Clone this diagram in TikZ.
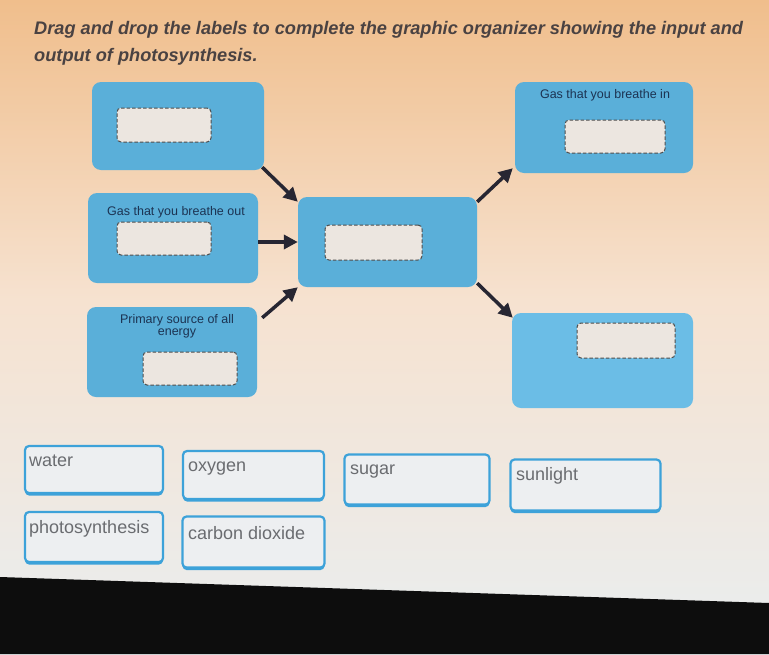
\documentclass[tikz,border=0pt]{standalone}
\usepackage{fontspec}
\setmainfont{Liberation Sans}
\usetikzlibrary{arrows.meta,calc}
\definecolor{bgtop}{HTML}{F0BE8C}
\definecolor{bgmid}{HTML}{F6E2D0}
\definecolor{bgbot}{HTML}{E9EEF0}
\definecolor{boxblue}{HTML}{5AAFD9}
\definecolor{boxblue2}{HTML}{6BBDE6}
\definecolor{slotfill}{HTML}{ECE6E0}
\definecolor{arrowc}{HTML}{272632}
\definecolor{titlec}{HTML}{4A4242}
\definecolor{labelc}{HTML}{1C3352}
\definecolor{tileborder}{HTML}{3DA2D9}
\definecolor{tilefill}{HTML}{EDEFF1}
\definecolor{tiletext}{HTML}{6A6C70}
\tikzset{
  bluebox/.style={fill=boxblue, rounded corners=9pt, draw=none, inner sep=0pt},
  slot/.style={fill=slotfill, draw=black!70, dashed, line width=1pt, dash pattern=on 3.5pt off 2pt, rounded corners=4pt, inner sep=0pt},
  conn/.style={draw=arrowc, line width=3.5pt, -{Triangle[length=14pt,width=14pt]}},
  boxlabel/.style={text=labelc, font=\fontsize{12.5}{13}\selectfont, inner sep=0pt},
  tile/.style={fill=tilefill, draw=tileborder, line width=2.2pt, rounded corners=4pt, inner sep=0pt},
  tiletxt/.style={text=tiletext, font=\fontsize{18}{20}\selectfont, anchor=base west, inner sep=0pt},
  titletxt/.style={text=titlec, font=\fontsize{18.2}{21}\selectfont\bfseries\itshape, anchor=base west, inner sep=0pt}
}
\begin{document}
\begin{tikzpicture}[x=1pt,y=-1pt]
\useasboundingbox (0,0) rectangle (769,654);
% background
\shade[top color=bgtop, bottom color=bgmid] (0,0) rectangle (769,300);
\shade[top color=bgmid, bottom color=bgbot] (0,300) rectangle (769,654);
\fill[black!95] (0,577) -- (769,603) -- (769,654) -- (0,654) -- cycle;

% title
\node[titletxt] (t1) at (34,34) {Drag and drop the labels to complete the graphic organizer showing the input and};
\node[titletxt] (t2) at (34,61) {output of photosynthesis.};

% blue boxes
\node[bluebox, minimum width=172, minimum height=88] (tl) at (178,126) {};
\node[bluebox, minimum width=170, minimum height=90] (ml) at (173,238) {};
\node[bluebox, minimum width=170, minimum height=90] (bl) at (172,352) {};
\node[bluebox, minimum width=179, minimum height=90] (c) at (387.5,242) {};
\node[bluebox, minimum width=178, minimum height=91] (tr) at (604,127.5) {};
\node[bluebox, fill=boxblue2, minimum width=181, minimum height=95] (br) at (602.5,360.5) {};

% labels in boxes
\node[boxlabel] (lml) at (176,212) {Gas that you breathe out};
\node[boxlabel, align=center] (lbl) at (177,326) {Primary source of all\\[-1pt]energy};
\node[boxlabel] (ltr) at (605,95) {Gas that you breathe in};

% dashed slots
\node[slot, minimum width=94, minimum height=34] (s1) at (164,125) {};
\node[slot, minimum width=94, minimum height=33] (s2) at (164,238.5) {};
\node[slot, minimum width=94, minimum height=33] (s3) at (190,368.5) {};
\node[slot, minimum width=97, minimum height=35] (s4) at (373.5,242.5) {};
\node[slot, minimum width=100, minimum height=33] (s5) at (615,136.5) {};
\node[slot, minimum width=98, minimum height=35] (s6) at (626,340.5) {};

% connectors
\draw[conn] ([shift={(-2,-3)}]tl.south east) -- ([shift={(0,5)}]c.north west);
\draw[conn] (ml.east |- c.west) -- (c.west);
\draw[conn] ([shift={(5,11)}]bl.north east) -- (c.south west);
\draw[conn] ([shift={(0,5)}]c.north east) -- ([shift={(-2,-5)}]tr.south west);
\draw[conn] ([shift={(0,-4)}]c.south east) -- ([shift={(1,5)}]br.north west);

% answer tiles
\foreach \n/\cx/\cy/\w/\h in {wa/94/469.5/138/47, ox/253.5/475/141/48, su/417/479.5/145/50, sl/585.5/485/150/51, ph/94/537/138/50, cd/253.5/542/142/51}{
  \fill[tileborder, rounded corners=4pt] (\cx-\w/2,\cy-\h/2+4) rectangle (\cx+\w/2,\cy+\h/2+2.5);
  \node[tile, minimum width=\w, minimum height=\h] (\n) at (\cx,\cy) {};
}
\node[tiletxt] (twa) at (29,466) {water};
\node[tiletxt] (tox) at (188,471) {oxygen};
\node[tiletxt] (tsu) at (350,474) {sugar};
\node[tiletxt] (tsl) at (516,480) {sunlight};
\node[tiletxt] (tph) at (29,533) {photosynthesis};
\node[tiletxt] (tcd) at (188,539) {carbon dioxide};
\end{tikzpicture}
\end{document}
